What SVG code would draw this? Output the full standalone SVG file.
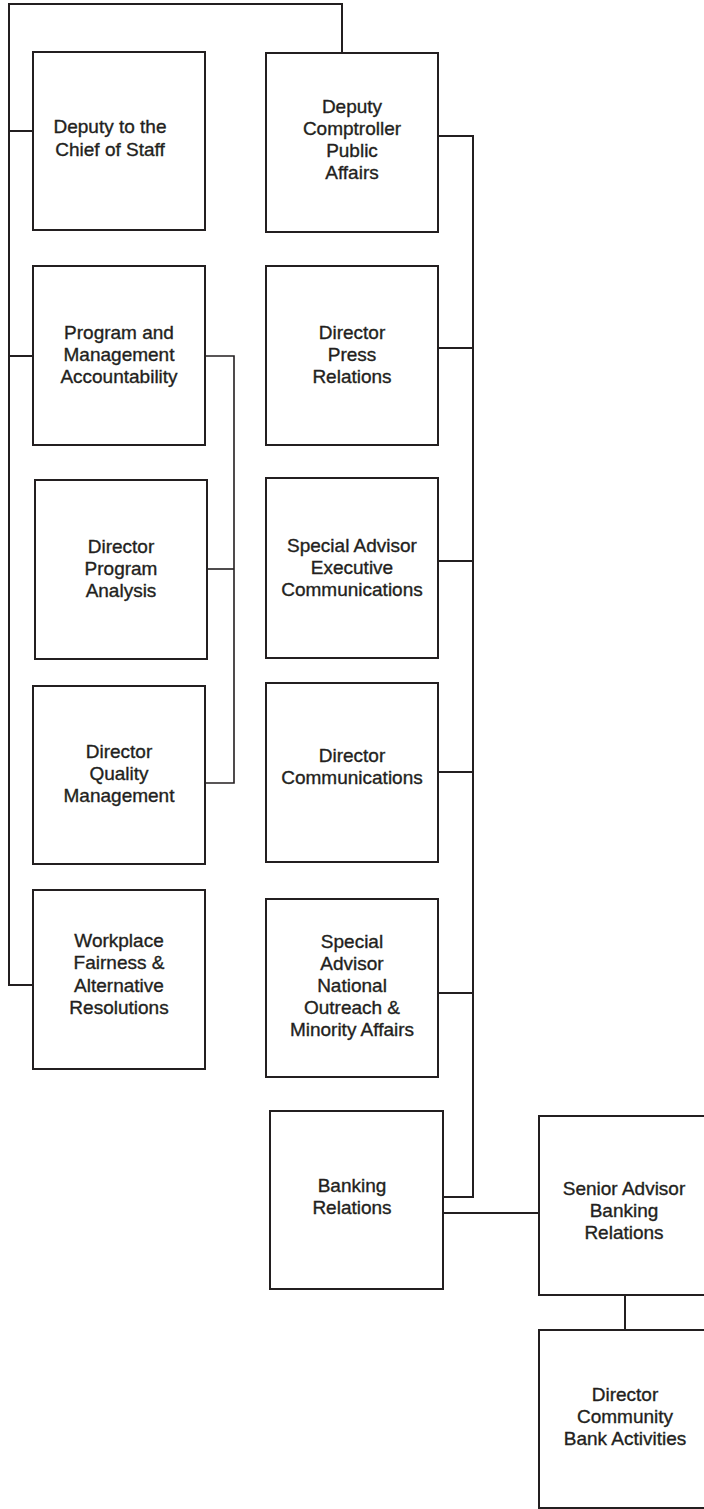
<svg xmlns="http://www.w3.org/2000/svg" width="704" height="1509" viewBox="0 0 704 1509">
  <style>
    .box { fill: #ffffff; stroke: #231f20; stroke-width: 2; }
    .link { fill: none; stroke: #231f20; stroke-width: 2; }
    .thin { stroke-width: 1.6; }
    .label { font-family: "Liberation Sans", Arial, sans-serif; font-size: 19px; fill: #231f20; stroke: #231f20; stroke-width: 0.35; text-anchor: middle; }
  </style>
  <rect width="704" height="1509" fill="#ffffff"/>

  <!-- connectors -->
  <g id="connectors">
    <!-- chief of staff bracket on the left -->
    <path class="link" d="M342,52 V4 H9 V985 H32"/>
    <path class="link" d="M9,131 H32"/>
    <path class="link" d="M9,356 H33"/>
    <!-- program and management accountability sub-bracket -->
    <path class="link thin" d="M205,356 H234 V783 H205"/>
    <path class="link thin" d="M207,569 H234"/>
    <!-- public affairs bracket on the right -->
    <path class="link" d="M438,136 H473 V1197 H443"/>
    <path class="link" d="M438,348 H473"/>
    <path class="link" d="M438,561 H473"/>
    <path class="link" d="M438,772 H473"/>
    <path class="link" d="M438,993 H473"/>
    <!-- banking relations chain -->
    <path class="link" d="M443,1213 H539"/>
    <path class="link" d="M625,1295 V1330"/>
  </g>

  <g id="deputy-chief-of-staff">
    <rect class="box" x="33" y="52" width="172" height="178"/>
    <text class="label" x="110"><tspan x="110" y="133">Deputy to the</tspan><tspan x="110" y="156">Chief of Staff</tspan></text>
  </g>

  <g id="program-management-accountability">
    <rect class="box" x="33" y="266" width="172" height="179"/>
    <text class="label"><tspan x="119" y="339">Program and</tspan><tspan x="119" y="361">Management</tspan><tspan x="119" y="383">Accountability</tspan></text>
  </g>

  <g id="director-program-analysis">
    <rect class="box" x="35" y="480" width="172" height="179"/>
    <text class="label"><tspan x="121" y="553">Director</tspan><tspan x="121" y="575">Program</tspan><tspan x="121" y="597">Analysis</tspan></text>
  </g>

  <g id="director-quality-management">
    <rect class="box" x="33" y="686" width="172" height="178"/>
    <text class="label"><tspan x="119" y="758">Director</tspan><tspan x="119" y="780">Quality</tspan><tspan x="119" y="802">Management</tspan></text>
  </g>

  <g id="workplace-fairness">
    <rect class="box" x="33" y="890" width="172" height="179"/>
    <text class="label"><tspan x="119" y="947">Workplace</tspan><tspan x="119" y="969">Fairness &amp;</tspan><tspan x="119" y="992">Alternative</tspan><tspan x="119" y="1014">Resolutions</tspan></text>
  </g>

  <g id="deputy-comptroller-public-affairs">
    <rect class="box" x="266" y="53" width="172" height="179"/>
    <text class="label"><tspan x="352" y="113">Deputy</tspan><tspan x="352" y="135">Comptroller</tspan><tspan x="352" y="157">Public</tspan><tspan x="352" y="179">Affairs</tspan></text>
  </g>

  <g id="director-press-relations">
    <rect class="box" x="266" y="266" width="172" height="179"/>
    <text class="label"><tspan x="352" y="339">Director</tspan><tspan x="352" y="361">Press</tspan><tspan x="352" y="383">Relations</tspan></text>
  </g>

  <g id="special-advisor-executive-communications">
    <rect class="box" x="266" y="478" width="172" height="180"/>
    <text class="label"><tspan x="352" y="552">Special Advisor</tspan><tspan x="352" y="574">Executive</tspan><tspan x="352" y="596">Communications</tspan></text>
  </g>

  <g id="director-communications">
    <rect class="box" x="266" y="683" width="172" height="179"/>
    <text class="label"><tspan x="352" y="762">Director</tspan><tspan x="352" y="784">Communications</tspan></text>
  </g>

  <g id="special-advisor-national-outreach">
    <rect class="box" x="266" y="899" width="172" height="178"/>
    <text class="label"><tspan x="352" y="948">Special</tspan><tspan x="352" y="970">Advisor</tspan><tspan x="352" y="992">National</tspan><tspan x="352" y="1014">Outreach &amp;</tspan><tspan x="352" y="1036">Minority Affairs</tspan></text>
  </g>

  <g id="banking-relations">
    <rect class="box" x="270" y="1111" width="173" height="178"/>
    <text class="label"><tspan x="352" y="1192">Banking</tspan><tspan x="352" y="1214">Relations</tspan></text>
  </g>

  <g id="senior-advisor-banking-relations">
    <rect class="box" x="539" y="1116" width="172" height="179"/>
    <text class="label"><tspan x="624" y="1195">Senior Advisor</tspan><tspan x="624" y="1217">Banking</tspan><tspan x="624" y="1239">Relations</tspan></text>
  </g>

  <g id="director-community-bank-activities">
    <rect class="box" x="539" y="1330" width="172" height="178"/>
    <text class="label"><tspan x="625" y="1401">Director</tspan><tspan x="625" y="1423">Community</tspan><tspan x="625" y="1445">Bank Activities</tspan></text>
  </g>
</svg>
